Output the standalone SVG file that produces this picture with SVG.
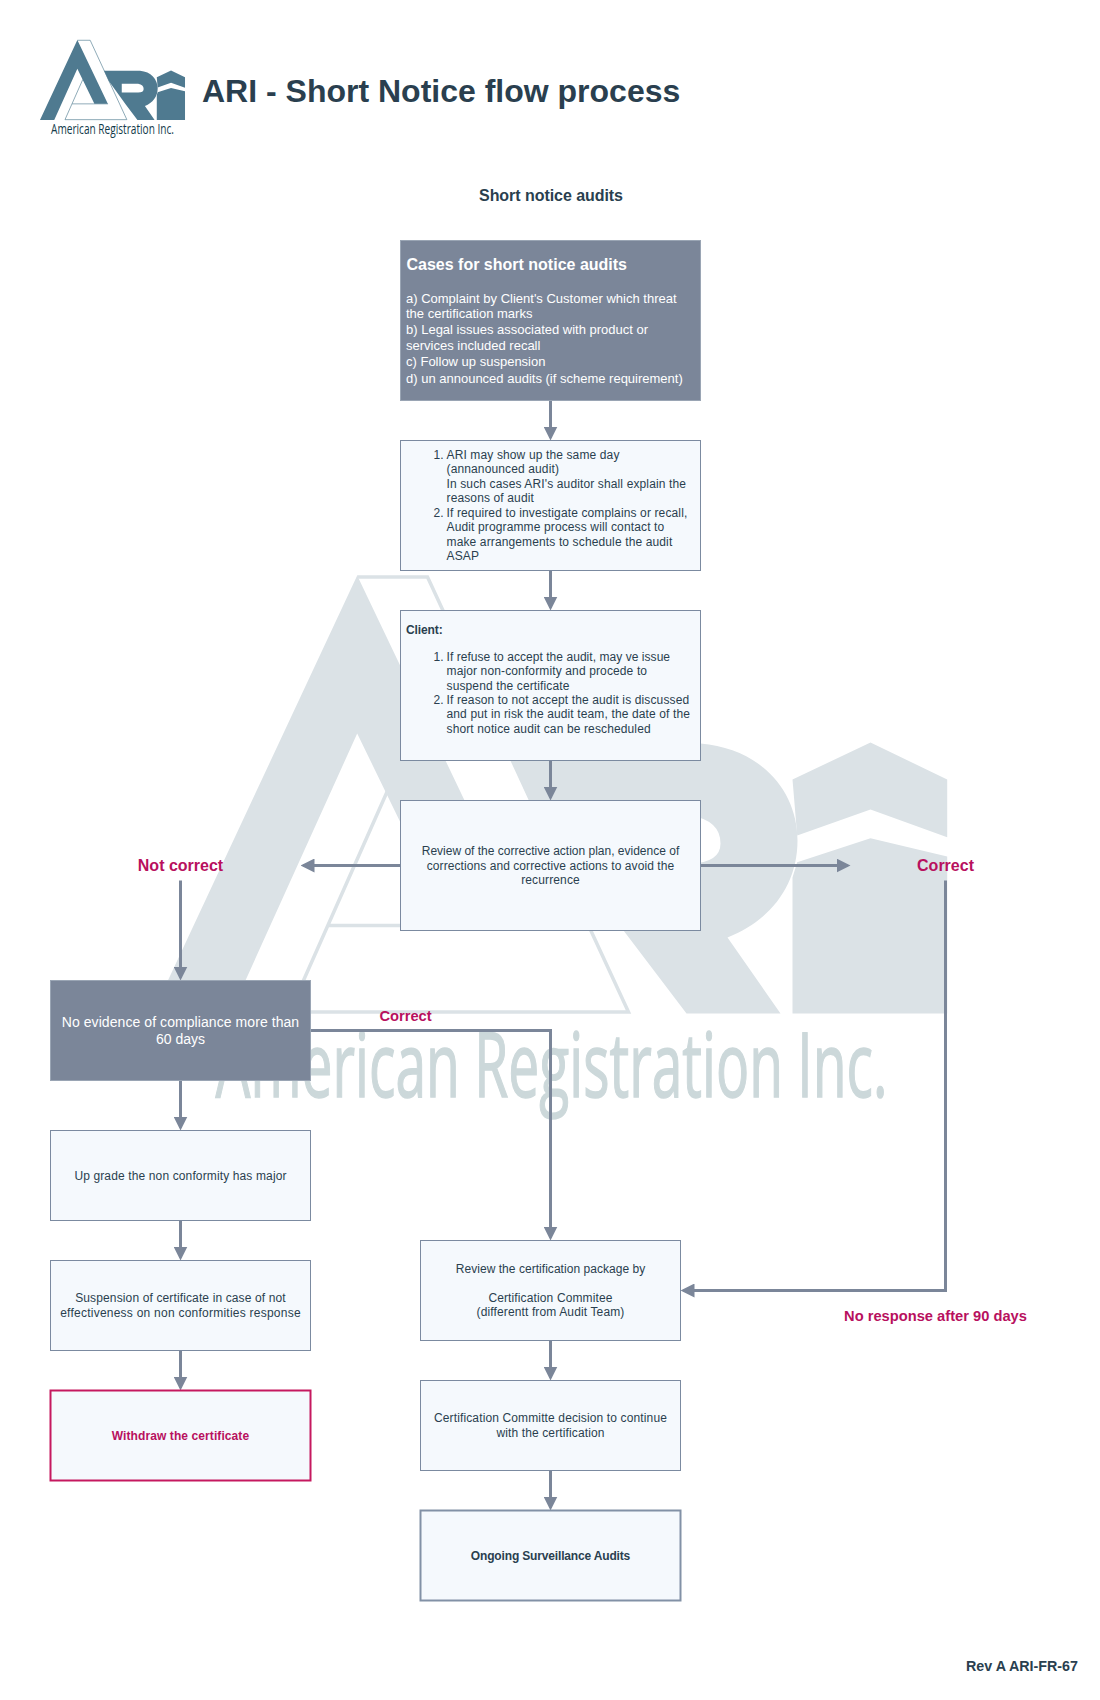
<svg xmlns="http://www.w3.org/2000/svg" width="1100" height="1700" viewBox="0 0 1100 1700">
<style>
text{font-family:"Liberation Sans",Arial,sans-serif;fill:#2a3f4f}
.box{fill:#f5f9fd;stroke:#7b8aa0;stroke-width:1}
.dark{fill:#7b8699;stroke:#9aa5b4;stroke-width:1}
.t12{font-size:12px;letter-spacing:.13px}
.t13{font-size:13px}
.mid{text-anchor:middle}
.b{font-weight:bold}
.w{fill:#fff}
.pink{fill:#b8105e;font-weight:bold}
.conn{fill:none;stroke:#7b8699;stroke-width:3}
.mk{fill:currentColor;fill-rule:evenodd}
.ol{fill:none;stroke:currentColor;stroke-width:3.5;stroke-linejoin:miter}
</style>
<defs>
<marker id="arr" markerUnits="userSpaceOnUse" markerWidth="14" markerHeight="14" viewBox="0 0 14 14" refX="11" refY="7" orient="auto"><path d="M0,0L14,7L0,14Z" fill="#7b8699"/></marker>
<g id="ari-mark">
<path class="mk" d="M356.7,575L523.7,925H450L356.7,733L230,1013H152Z"/>
<path class="ol" d="M356.7,576.5H427L628,1011.5H289L386.7,791M328,925H525"/>
<path class="mk" d="M503,743H700C760,748 797,790 797,840C797,885 770,920 727,937L780,1013H686L623,930L529,800ZM600,815H690Q720,820 720,843Q720,862 690,863H600Z"/>
<path class="mk" d="M792,779L870,742L946.7,779V836.7L870,809L796.7,835V861.7L870,837.7L946.7,856V1013H792V877L796.7,861.7L796.7,835Z"/>
</g>
</defs>
<g id="logo">
<use href="#ari-mark" transform="translate(40,40) scale(0.18248) translate(-152,-575)" style="color:#4f7a90"/>
<text x="51" y="134" style="font-family:'Open Sans','Liberation Sans',sans-serif;font-size:14px;fill:#123a4a" textLength="123" lengthAdjust="spacingAndGlyphs">American Registration Inc.</text>
</g>
<g id="title"><text x="202" y="102" class="b" font-size="32">ARI - Short Notice flow process</text></g>
<g id="subtitle"><text x="551" y="201" class="b mid" font-size="16" style="letter-spacing:-.05px">Short notice audits</text></g>
<g id="page" transform="translate(0.5,0.5)">
<g id="watermark">
<use href="#ari-mark" style="color:#dbe2e6"/>
<text x="215" y="1096" style="font-family:'Open Sans','Liberation Sans',sans-serif;font-size:90px;fill:#ccd8da;stroke:#ccd8da;stroke-width:1.5" textLength="672" lengthAdjust="spacingAndGlyphs">American Registration Inc.</text>
</g>
<g id="connectors">
<path class="conn" marker-end="url(#arr)" d="M550,400V437"/>
<path class="conn" marker-end="url(#arr)" d="M550,570V607"/>
<path class="conn" marker-end="url(#arr)" d="M550,760V797"/>
<path class="conn" marker-end="url(#arr)" d="M400,865H303"/>
<path class="conn" marker-end="url(#arr)" d="M700,865H847"/>
<path class="conn" marker-end="url(#arr)" d="M180,880V977"/>
<path class="conn" marker-end="url(#arr)" d="M945,880V1290H683"/>
<path class="conn" marker-end="url(#arr)" d="M310,1030H550V1237"/>
<path class="conn" marker-end="url(#arr)" d="M180,1080V1127"/>
<path class="conn" marker-end="url(#arr)" d="M180,1220V1257"/>
<path class="conn" marker-end="url(#arr)" d="M180,1350V1387"/>
<path class="conn" marker-end="url(#arr)" d="M550,1340V1377"/>
<path class="conn" marker-end="url(#arr)" d="M550,1470V1507"/>
</g>
<g id="cases">
<rect class="dark" x="400" y="240" width="300" height="160"/>
<text x="406" y="269" class="b w" font-size="16">Cases for short notice audits</text>
<text class="t13 w" x="405.500" y="302">a) Complaint by Client's Customer which threat</text>
<text class="t13 w" x="405.500" y="317.500">the certification marks</text>
<text class="t13 w" x="405.500" y="333.500">b) Legal issues associated with product or</text>
<text class="t13 w" x="405.500" y="349.500">services included recall</text>
<text class="t13 w" x="405.500" y="365.500">c) Follow up suspension</text>
<text class="t13 w" x="405.500" y="382.500">d) un announced audits (if scheme requirement)</text>
</g>
<g id="step-ari">
<rect class="box" x="400" y="440" width="300" height="130"/>
<text class="t12" x="433" y="458">1.</text>
<text class="t12" x="446" y="458">ARI may show up the same day</text>
<text class="t12" x="446" y="472.500">(annanounced audit)</text>
<text class="t12" x="446" y="487">In such cases ARI's auditor shall explain the</text>
<text class="t12" x="446" y="501.500">reasons of audit</text>
<text class="t12" x="433" y="516">2.</text>
<text class="t12" x="446" y="516">If required to investigate complains or recall,</text>
<text class="t12" x="446" y="530.500">Audit programme process will contact to</text>
<text class="t12" x="446" y="545">make arrangements to schedule the audit</text>
<text class="t12" x="446" y="559.500">ASAP</text>
</g>
<g id="step-client">
<rect class="box" x="400" y="610" width="300" height="150"/>
<text class="t12 b" x="405.500" y="633.500" style="letter-spacing:-.1px">Client:</text>
<text class="t12" x="433" y="660.500">1.</text>
<text class="t12" x="446" y="660.500" style="letter-spacing:.05px">If refuse to accept the audit, may ve issue</text>
<text class="t12" x="446" y="674.500">major non-conformity and procede to</text>
<text class="t12" x="446" y="689">suspend the certificate</text>
<text class="t12" x="433" y="703.500">2.</text>
<text class="t12" x="446" y="703.500">If reason to not accept the audit is discussed</text>
<text class="t12" x="446" y="717.500">and put in risk the audit team, the date of the</text>
<text class="t12" x="446" y="732">short notice audit can be rescheduled</text>
</g>
<g id="step-review">
<rect class="box" x="400" y="800" width="300" height="130"/>
<text class="t12 mid" x="550" y="854.500" style="letter-spacing:0">Review of the corrective action plan, evidence of</text>
<text class="t12 mid" x="550" y="869.500" style="letter-spacing:.07px">corrections and corrective actions to avoid the</text>
<text class="t12 mid" x="550" y="883.500">recurrence</text>
</g>
<g id="label-not-correct"><text x="180" y="870" class="pink mid" font-size="16">Not correct</text></g>
<g id="label-correct"><text x="945" y="870" class="pink mid" font-size="16">Correct</text></g>
<g id="label-correct-2"><text x="405" y="1020" class="pink mid" font-size="14.700">Correct</text></g>
<g id="label-no-response"><text x="935" y="1320" class="pink mid" font-size="14.700">No response after 90 days</text></g>
<g id="no-evidence">
<rect class="dark" x="50" y="980" width="260" height="100"/>
<text class="mid w" font-size="14" x="180" y="1026.500" style="letter-spacing:.07px">No evidence of compliance more than</text>
<text class="mid w" font-size="14" x="180" y="1043.500">60 days</text>
</g>
<g id="upgrade">
<rect class="box" x="50" y="1130" width="260" height="90"/>
<text class="t12 mid" x="180" y="1179.500">Up grade the non conformity has major</text>
</g>
<g id="suspension">
<rect class="box" x="50" y="1260" width="260" height="90"/>
<text class="t12 mid" x="180" y="1301.500">Suspension of certificate in case of not</text>
<text class="t12 mid" x="180" y="1316.500" style="letter-spacing:.24px">effectiveness on non conformities response</text>
</g>
<g id="withdraw">
<rect x="50" y="1390" width="260" height="90" fill="#f5f9fd" stroke="#c5195f" stroke-width="2"/>
<text class="t12 mid pink" x="180" y="1439.500" style="letter-spacing:.09px">Withdraw the certificate</text>
</g>
<g id="package">
<rect class="box" x="420" y="1240" width="260" height="100"/>
<text class="t12 mid" x="550" y="1272.500" style="letter-spacing:.04px">Review the certification package by</text>
<text class="t12 mid" x="550" y="1301.500">Certification Commitee</text>
<text class="t12 mid" x="550" y="1315.500">(differentt from Audit Team)</text>
</g>
<g id="committee">
<rect class="box" x="420" y="1380" width="260" height="90"/>
<text class="t12 mid" x="550" y="1421.500">Certification Committe decision to continue</text>
<text class="t12 mid" x="550" y="1436.500">with the certification</text>
</g>
<g id="ongoing">
<rect x="420" y="1510" width="260" height="90" fill="#f5f9fd" stroke="#8291a6" stroke-width="2"/>
<text class="t12 mid b" x="550" y="1559.500" style="letter-spacing:-.16px">Ongoing Surveillance Audits</text>
</g>
<g id="revision"><text x="1077.500" y="1670.500" class="b" text-anchor="end" font-size="14.300">Rev A ARI-FR-67</text></g>
</g>
</svg>
